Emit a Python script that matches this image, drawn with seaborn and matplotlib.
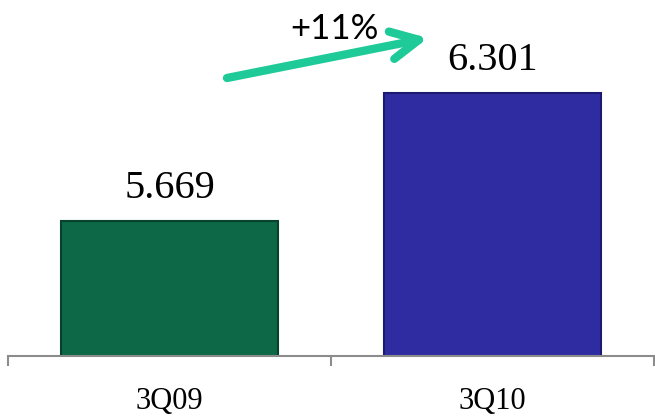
import matplotlib
matplotlib.use("Agg")
import matplotlib.pyplot as plt
import seaborn as sns

# ------------------- DATOS ------------------- #

periodos = ["3Q09", "3Q10"]
valores = [5.669, 6.301]
etiquetas = ["5.669", "6.301"]
colores = ["#0c6847", "#2e2ca0"]
bordes = ["#06422c", "#1c1a70"]
variacion = "+11%"

# ------------------- GRÁFICA ------------------- #

sns.set_style("white")
plt.rcParams["font.family"] = ["Liberation Serif", "DejaVu Serif"]

fig = plt.figure(figsize=(6.55, 4.17), dpi=100)
ax = fig.add_axes([8 / 655, 61 / 417, 646 / 655, 356 / 417])

sns.barplot(x=periodos, y=valores, hue=periodos, palette=colores,
            legend=False, width=0.67, ax=ax, saturation=1)
for barra, borde in zip(ax.patches, bordes):
    barra.set_edgecolor(borde)
    barra.set_linewidth(1.5)

ax.set_ylim(5.0, 6.758)
ax.set_xlim(-0.5, 1.5)
ax.set_yticks([])
ax.set_ylabel("")
ax.set_xlabel("")

# etiquetas de valor sobre las barras
for i, (v, txt) in enumerate(zip(valores, etiquetas)):
    ax.text(i, v + 0.065, txt, ha="center", va="bottom", fontsize=29,
            color="black")

# eje con marcas entre categorías
sns.despine(ax=ax, left=True, top=True, right=True)
ax.spines["bottom"].set_color("#8c8c8c")
ax.spines["bottom"].set_linewidth(1.5)
ax.set_xticks([-0.5, 0.5, 1.5])
ax.set_xticklabels([])
ax.tick_params(axis="x", which="major", direction="out", length=7,
               width=1.5, color="#8c8c8c", bottom=True)
ax.set_xticks([0, 1], minor=True)
ax.set_xticklabels(periodos, minor=True)
ax.tick_params(axis="x", which="minor", length=0, pad=22, labelsize=22,
               labelcolor="black")

# flecha de crecimiento
ax.annotate("", xy=(428 / 655, 1 - 38 / 417), xycoords="figure fraction",
            xytext=(227 / 655, 1 - 78 / 417), textcoords="figure fraction",
            arrowprops=dict(arrowstyle="->,head_length=2.0,head_width=1.0",
                            color="#1ecb98", lw=6, capstyle="round",
                            joinstyle="round", shrinkA=0, shrinkB=0),
            annotation_clip=False)
fig.text(334 / 655, 1 - 29 / 417, variacion, ha="center", va="center",
         fontsize=25, fontfamily="Lato", color="black")

plt.savefig("out.png", dpi=100)
plt.close()
